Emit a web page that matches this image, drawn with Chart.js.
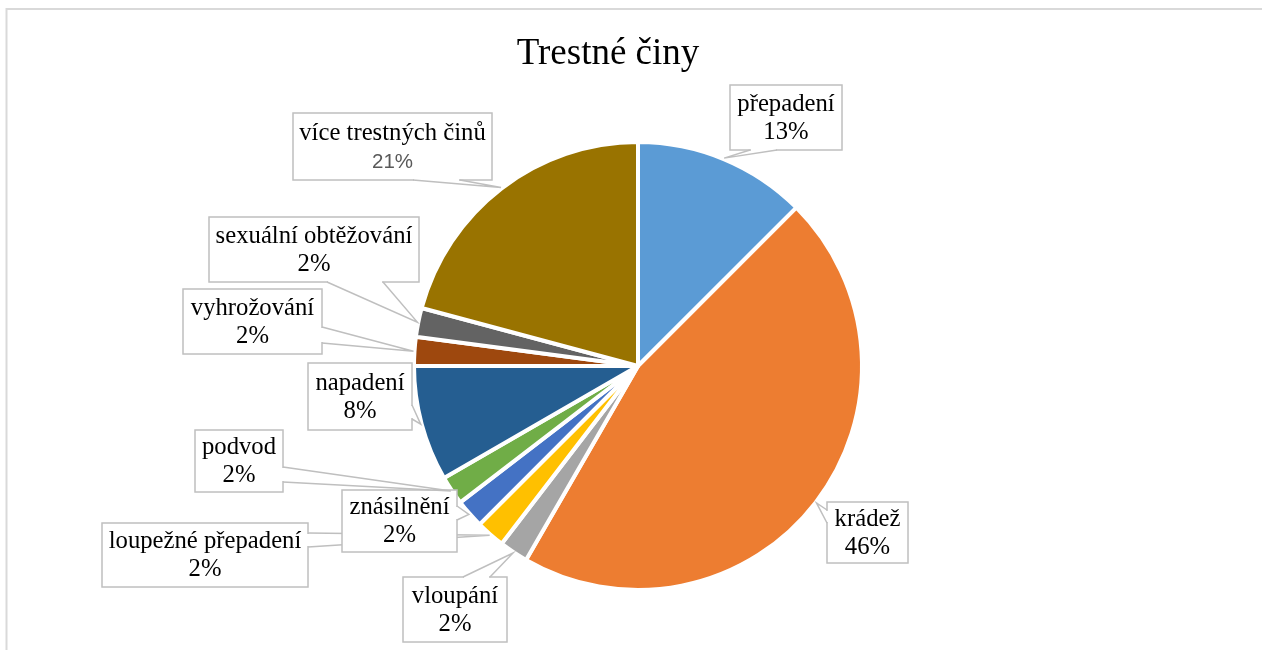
<!DOCTYPE html>
<html><head><meta charset="utf-8">
<script src="https://cdn.jsdelivr.net/npm/chart.js@4.4.1/dist/chart.umd.min.js"></script>
<style>html,body{margin:0;padding:0;background:#fff;overflow:hidden}canvas{display:block}</style>
</head><body>
<canvas id="c" width="1262" height="650"></canvas>
<script>
// ---- data ----
const TITLE = 'Trestné činy';
const categories = ['přepadení','krádež','vloupání','loupežné přepadení','znásilnění','podvod','napadení','vyhrožování','sexuální obtěžování','více trestných činů'];
const counts = [12,44,2,2,2,2,8,2,2,20];
const colors = ['#5B9BD5','#ED7D31','#A5A5A5','#FFC000','#4472C4','#70AD47','#255E91','#9E480E','#636363','#997300'];

// ---- callout layout (box x,y,w,h; edge the pointer leaves from; pointer base range) ----
const callouts = [
  {box:[730,85,112,65],  side:'bottom', base:[750,777]},
  {box:[827,502,81,61],  side:'left',   base:[510,523]},
  {box:[403,577,104,65], side:'top',    base:[463,490]},
  {box:[102,523,206,64], side:'right',  base:[533,547]},
  {box:[342,490,115,62], side:'right',  base:[506,520]},
  {box:[195,430,88,62],  side:'right',  base:[467,482]},
  {box:[308,363,104,67], side:'right',  base:[405,419]},
  {box:[183,289,139,65], side:'right',  base:[327,343]},
  {box:[209,217,210,65], side:'bottom', base:[327,383]},
  {box:[293,113,199,67], side:'bottom', base:[413,460], sansPct:true}
];
const drawOrder = [0,1,2,3,4,5,6,7,8,9];

const SERIF = '"Liberation Serif", "Times New Roman", serif';

const framePlugin = {
  id:'frame',
  beforeDraw(chart){
    const ctx = chart.ctx;
    ctx.save();
    ctx.fillStyle='#fff';
    ctx.fillRect(0,0,chart.width,chart.height);
    ctx.strokeStyle='#d9d9d9';
    ctx.lineWidth=2;
    ctx.beginPath();
    ctx.moveTo(6.5,650); ctx.lineTo(6.5,9); ctx.lineTo(1262,9);
    ctx.stroke();
    ctx.restore();
  },
  afterDraw(chart){
    const ctx = chart.ctx;
    ctx.save();
    ctx.fillStyle='#000';
    ctx.font='37px '+SERIF;
    ctx.textAlign='center';
    ctx.textBaseline='alphabetic';
    ctx.fillText(TITLE, 608, 64);
    ctx.restore();
  }
};

const calloutPlugin = {
  id:'callouts',
  afterDatasetsDraw(chart){
    const ctx = chart.ctx;
    const meta = chart.getDatasetMeta(0);
    const total = counts.reduce((a,b)=>a+b,0);
    ctx.save();
    for (const i of drawOrder){
      const c = callouts[i];
      const arc = meta.data[i];
      const p = arc.getProps(['x','y','startAngle','endAngle','outerRadius'], true);
      const mid = (p.startAngle+p.endAngle)/2;
      const tx = p.x + Math.cos(mid)*(p.outerRadius+1);
      const ty = p.y + Math.sin(mid)*(p.outerRadius+1);
      const [x,y,w,h] = c.box;
      let b1,b2;
      if (c.side==='bottom'){ b1=[c.base[0],y+h]; b2=[c.base[1],y+h]; }
      else if (c.side==='top'){ b1=[c.base[0],y]; b2=[c.base[1],y]; }
      else if (c.side==='right'){ b1=[x+w,c.base[0]]; b2=[x+w,c.base[1]]; }
      else { b1=[x,c.base[0]]; b2=[x,c.base[1]]; }
      ctx.fillStyle='#fff';
      ctx.beginPath(); ctx.moveTo(b1[0],b1[1]); ctx.lineTo(tx,ty); ctx.lineTo(b2[0],b2[1]); ctx.closePath(); ctx.fill();
      ctx.fillRect(x,y,w,h);
      ctx.strokeStyle='#bfbfbf';
      ctx.lineWidth=1.5;
      ctx.strokeRect(x,y,w,h);
      ctx.strokeStyle='#fff';
      ctx.lineWidth=2.5;
      ctx.beginPath();
      if (c.side==='bottom'||c.side==='top'){ ctx.moveTo(b1[0]+1,b1[1]); ctx.lineTo(b2[0]-1,b2[1]); }
      else { ctx.moveTo(b1[0],b1[1]+1); ctx.lineTo(b2[0],b2[1]-1); }
      ctx.stroke();
      ctx.strokeStyle='#bfbfbf';
      ctx.lineWidth=1.5;
      ctx.beginPath(); ctx.moveTo(b1[0],b1[1]); ctx.lineTo(tx,ty); ctx.lineTo(b2[0],b2[1]); ctx.stroke();
      const pct = Math.round(counts[i]/total*100)+'%';
      const cx = x+w/2, cy = y+h/2;
      ctx.textAlign='center';
      ctx.textBaseline='middle';
      ctx.fillStyle='#000';
      ctx.font='24.7px '+SERIF;
      ctx.fillText(categories[i], cx, cy-13);
      if (c.sansPct){
        ctx.fillStyle='#595959';
        ctx.font='20.5px "Liberation Sans", Arial, sans-serif';
        ctx.fillText(pct, cx, cy+16);
      } else {
        ctx.fillText(pct, cx, cy+15);
      }
    }
    ctx.restore();
  }
};

new Chart(document.getElementById('c'), {
  type:'pie',
  data:{
    labels:categories,
    datasets:[{
      data:counts,
      backgroundColor:colors,
      borderColor:'#ffffff',
      borderWidth:4,
      hoverOffset:0,
      offset:0
    }]
  },
  options:{
    responsive:false,
    animation:false,
    devicePixelRatio:1,
    layout:{padding:{left:400,right:386,top:140,bottom:58}},
    plugins:{legend:{display:false},title:{display:false},tooltip:{enabled:false}},
    events:[]
  },
  plugins:[framePlugin, calloutPlugin]
});
</script>
</body></html>
